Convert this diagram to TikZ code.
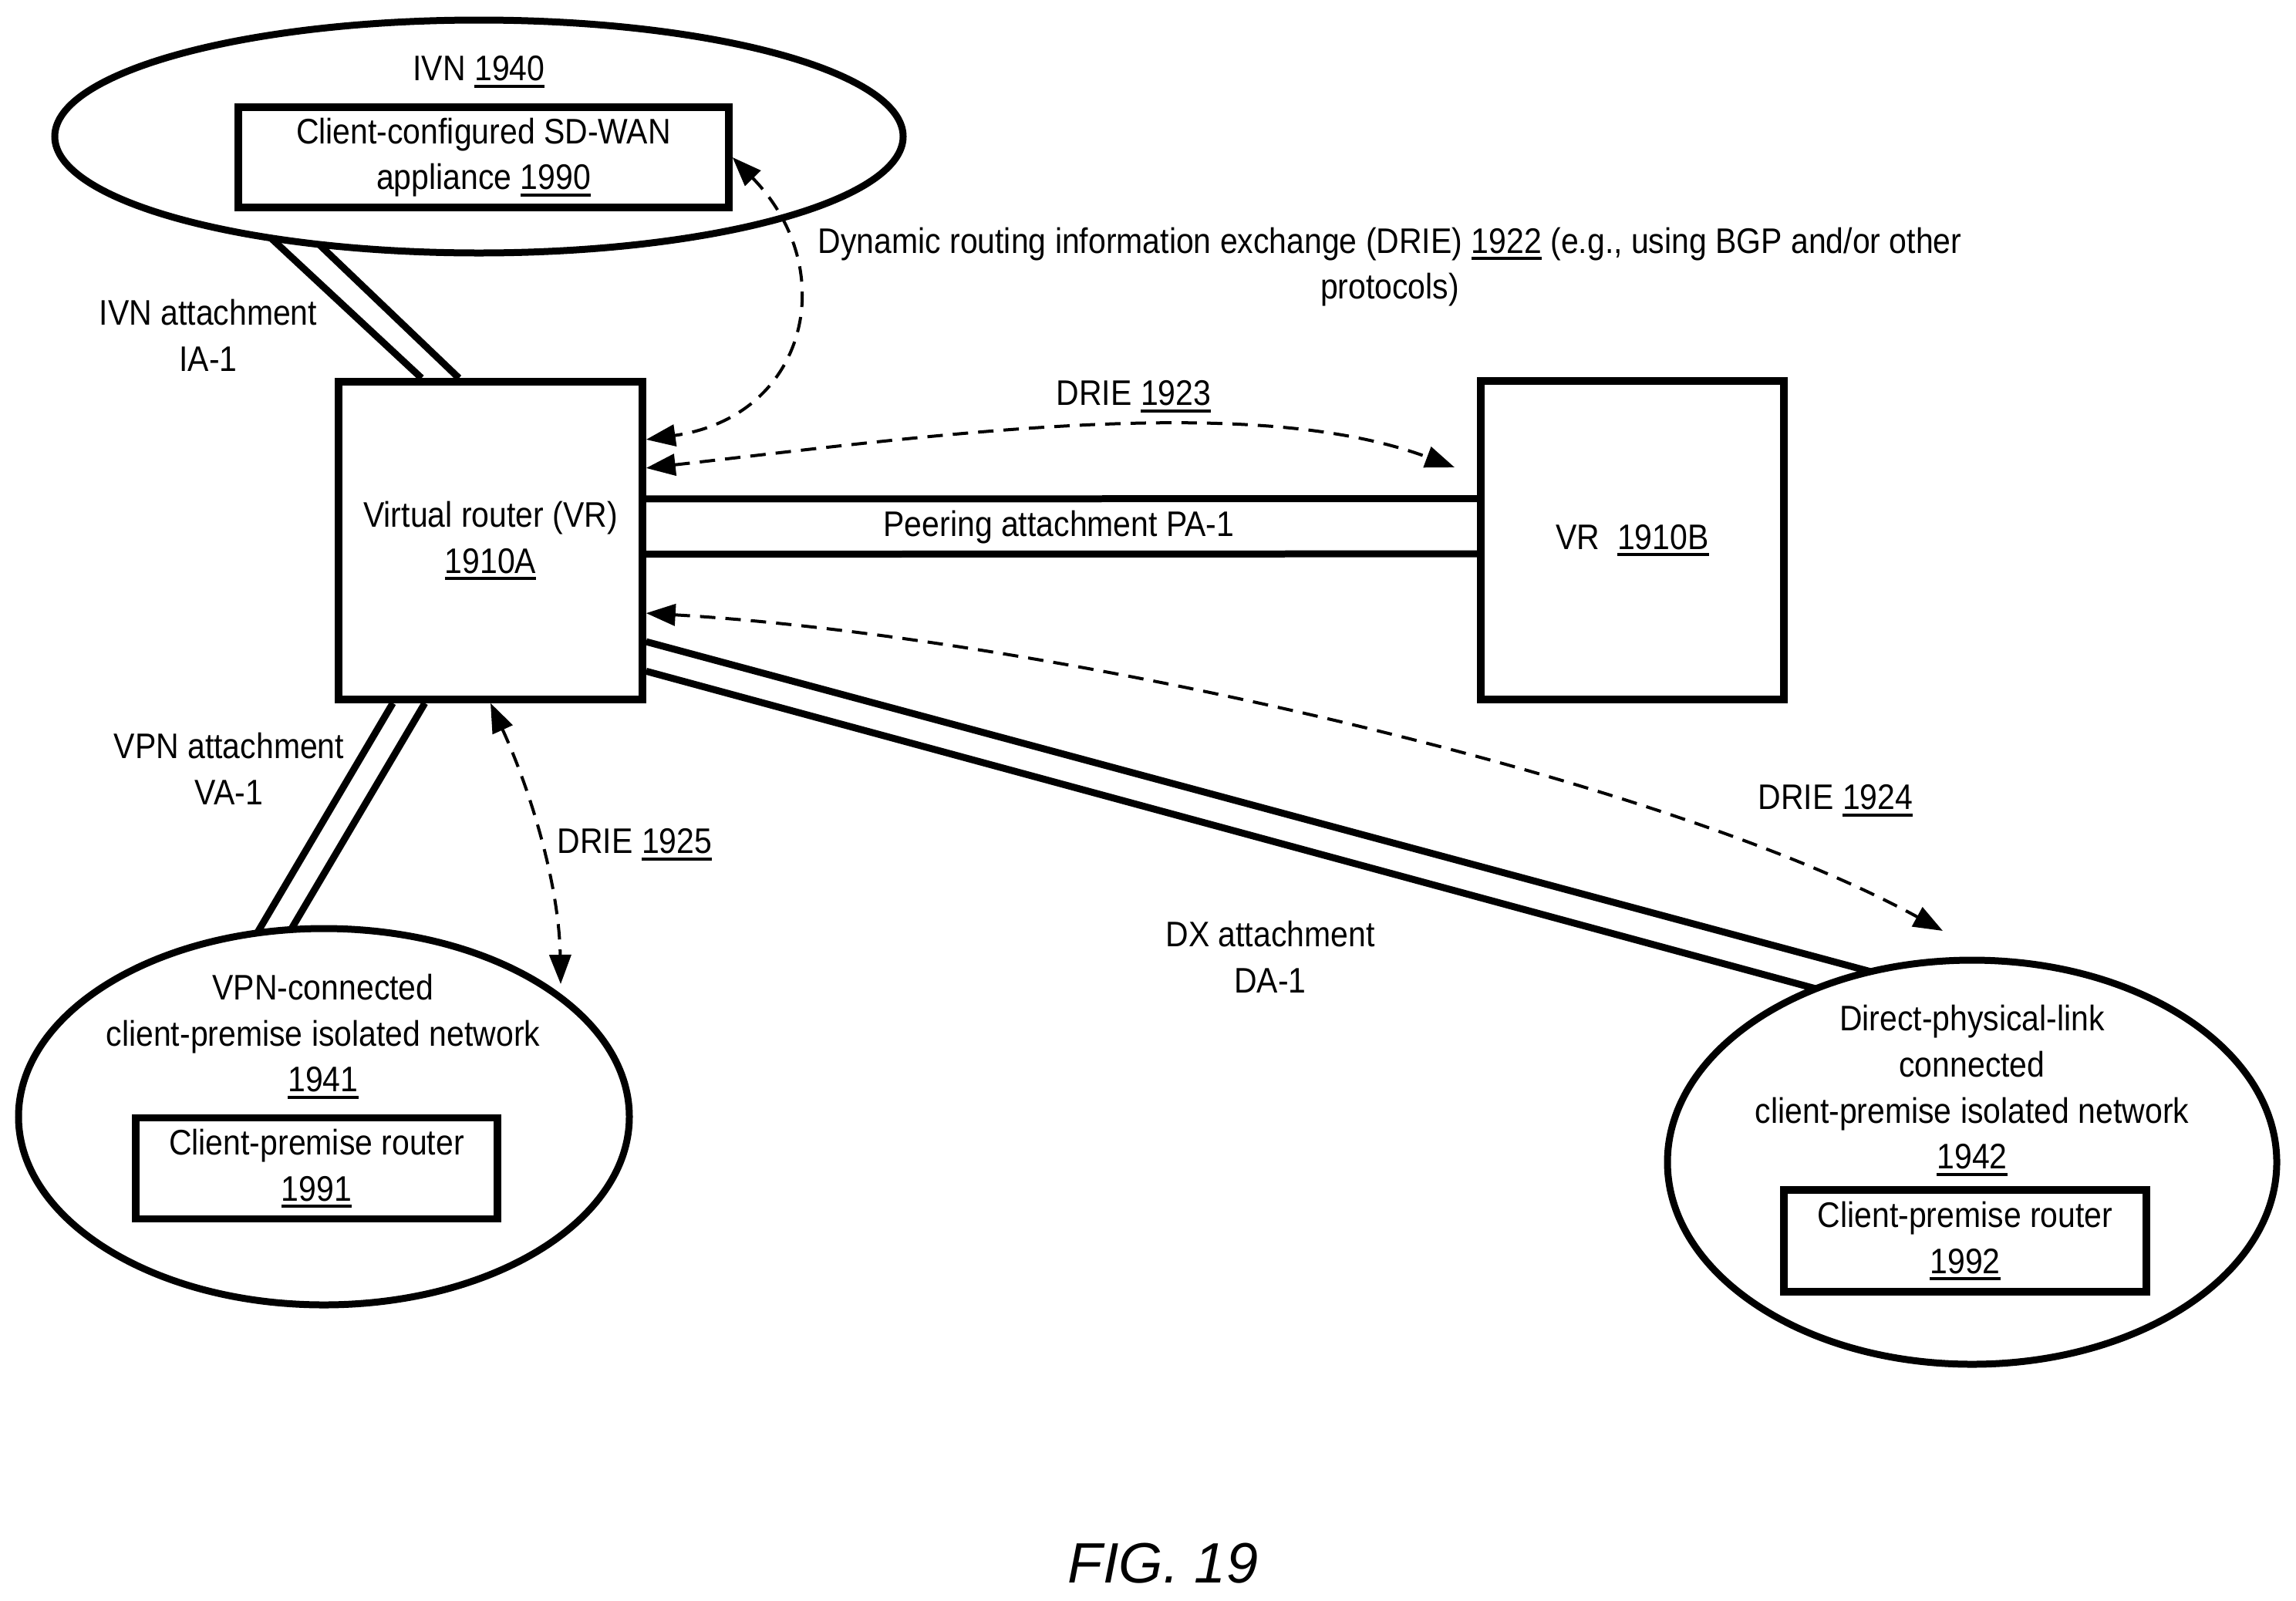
\documentclass[tikz,border=0pt]{standalone}
\usepackage{fontspec}
\setmainfont{Liberation Sans}[FakeStretch=0.89]
\newfontfamily\figfont{Liberation Sans}
\usetikzlibrary{arrows.meta,shapes.geometric}
\newcommand{\refnum}[1]{\sbox0{#1}\rlap{\rule[-0.09cm]{\wd0}{0.04cm}}\usebox0}

\begin{document}
\begin{tikzpicture}
    [font=\fontsize{13.1}{17}\selectfont,
    cloud/.style={shape=ellipse,draw=black,line width=0.09cm,inner sep=0pt,outer sep=0pt},
    router/.style={shape=rectangle,draw=black,line width=0.095cm,inner sep=0pt,align=center},
    lbl/.style={inner sep=0pt,align=center},
    attach/.style={line width=0.09cm},
    drie/.style={<->,>={Triangle[length=0.38cm,width=0.28cm]},line width=0.04cm,dash pattern=on 0.2cm off 0.13cm}]

    \useasboundingbox (0,0) rectangle (29.77,-20.75);

    % networks
    \node (ivn) [cloud,minimum width=11.0cm,minimum height=3.02cm] at (6.21,-1.77) {};
    \node (vpn) [cloud,minimum width=7.92cm,minimum height=4.88cm] at (4.20,-14.48) {};
    \node (dx) [cloud,minimum width=7.90cm,minimum height=5.24cm] at (25.57,-15.07) {};

    % boxes
    \node (vra) [router,minimum width=3.94cm,minimum height=4.12cm] at (6.36,-7.01) {Virtual router (VR)\\\refnum{1910A}};
    \node (vrb) [router,minimum width=3.93cm,minimum height=4.13cm] at (21.165,-7.005) {VR\ \ \refnum{1910B}};
    \node (sdwan) [router,minimum width=6.36cm,minimum height=1.30cm] at (6.27,-2.04) {Client-configured SD-WAN\\appliance \refnum{1990}};
    \node (cpr1) [router,minimum width=4.69cm,minimum height=1.31cm] at (4.105,-15.15) {Client-premise router\\\refnum{1991}};
    \node (cpr2) [router,minimum width=4.70cm,minimum height=1.32cm] at (25.48,-16.09) {Client-premise router\\\refnum{1992}};

    % free arrow ends
    \coordinate (tip23) at (18.86,-6.06);
    \coordinate (tip24) at (25.19,-12.07);
    \coordinate (tip25) at (7.27,-12.76);

    % labels
    \node (l1) [lbl] at (6.21,-0.93) {IVN \refnum{1940}};
    \node (l2) [lbl] at (2.70,-4.35) {IVN attachment\\IA-1};
    \node (l3) [lbl] at (18.02,-3.46) {Dynamic routing information exchange (DRIE) \refnum{1922} (e.g., using BGP and/or other\\protocols)};
    \node (l4) [lbl] at (14.70,-5.14) {DRIE \refnum{1923}};
    \node (l5) [lbl] at (13.73,-6.84) {Peering attachment PA-1};
    \node (l6) [lbl] at (23.80,-10.38) {DRIE \refnum{1924}};
    \node (l7) [lbl] at (8.23,-10.95) {DRIE \refnum{1925}};
    \node (l8) [lbl] at (2.97,-9.97) {VPN attachment\\VA-1};
    \node (l9) [lbl] at (16.47,-12.41) {DX attachment\\DA-1};
    \node (l10) [lbl] at (4.19,-13.44) {VPN-connected\\client-premise isolated network\\\refnum{1941}};
    \node (l11) [lbl] at (25.57,-14.14) {Direct-physical-link\\connected\\client-premise isolated network\\\refnum{1942}};
    \node (fig) [lbl,font=\figfont\itshape\fontsize{21}{25}\selectfont] at (15.08,-20.27) {FIG. 19};

    % attachments
    \draw [attach] (ivn.206.7) -- (vra.113.6);
    \draw [attach] (ivn.214.6) -- (vra.101.8);
    \draw [attach] (vra.15.3) -- (vrb.165.2);
    \draw [attach] (vra.-5.2) -- (vrb.185);
    \draw [attach] (vra.239) -- (vpn.110.9);
    \draw [attach] (vra.248.5) -- (vpn.100.6);
    \draw [attach] (vra.-33) -- (dx.118.3);
    \draw [attach] (vra.-40.3) -- (dx.132.1);

    % route exchanges
    \draw [drie] (sdwan.east) .. controls (10.92,-3.50) and (10.47,-5.40) .. (vra.33.6);
    \draw [drie] (vra.25.5) .. controls (12.00,-5.66) and (16.20,-5.06) .. (tip23);
    \draw [drie] (vra.-25.5) .. controls (13.50,-8.25) and (21.50,-10.05) .. (tip24);
    \draw [drie] (vra.south) .. controls (6.90,-10.30) and (7.25,-11.50) .. (tip25);

  \end{tikzpicture}
\end{document}
